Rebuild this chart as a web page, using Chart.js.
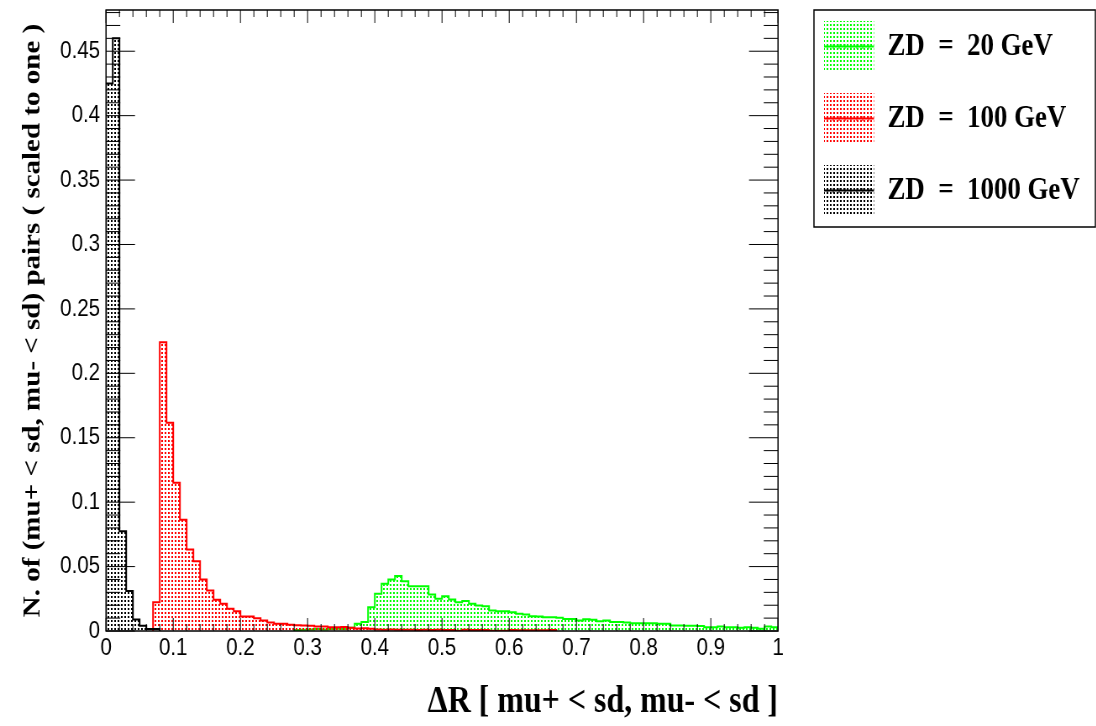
<!DOCTYPE html>
<html>
<head>
<meta charset="utf-8">
<title>ΔR [ mu+ &lt; sd, mu- &lt; sd ]</title>
<script src="https://cdn.jsdelivr.net/npm/chart.js@4.4.1/dist/chart.umd.min.js"></script>
<style>
  html, body { margin: 0; padding: 0; background: #fff; overflow: hidden; }
  /* canvas is drawn wide and squeezed horizontally, like the original pad */
  #wrap { width: 1305px; height: 726px; transform: scaleX(0.84); transform-origin: 0 0; }
</style>
</head>
<body>
<div id="wrap"><canvas id="dr" width="1305" height="726"></canvas></div>
<script>
// histogram binning
const BIN = 0.01;

// ZD = 20 GeV, bins from 0.28 up to 1.00
const zd20Start = 0.28;
const zd20 = [
  0.0008, 0.0010, 0.0012, 0.0015, 0.0012, 0.0015, 0.0018, 0.0015, 0.0025, 0.0056,
  0.0069, 0.0185, 0.0289, 0.0366, 0.0400, 0.0426, 0.0387, 0.0348, 0.0348, 0.0348,
  0.0283, 0.0250, 0.0270, 0.0245, 0.0224, 0.0232, 0.0211, 0.0198, 0.0193, 0.0159,
  0.0154, 0.0154, 0.0146, 0.0133, 0.0128, 0.0115, 0.0113, 0.0107, 0.0107, 0.0102,
  0.0094, 0.0094, 0.0082, 0.0092, 0.0087, 0.0076, 0.0082, 0.0069, 0.0069, 0.0066,
  0.0061, 0.0061, 0.0061, 0.0061, 0.0056, 0.0056, 0.0043, 0.0043, 0.0040, 0.0040,
  0.0038, 0.0030, 0.0030, 0.0035, 0.0030, 0.0030, 0.0025, 0.0030, 0.0025, 0.0017,
  0.0035, 0.0030
];

// ZD = 100 GeV, bins from 0.07 up to 0.67
const zd100Start = 0.07;
const zd100 = [
  0.0224, 0.2242, 0.1616, 0.1150, 0.0863, 0.0633, 0.0542, 0.0400, 0.0314, 0.0242,
  0.0211, 0.0172, 0.0154, 0.0113, 0.0113, 0.0099, 0.0082, 0.0066, 0.0056, 0.0056,
  0.0048, 0.0045, 0.0042, 0.0040, 0.0035, 0.0035, 0.0030, 0.0030, 0.0032, 0.0025,
  0.0020, 0.0022, 0.0018, 0.0012, 0.0010, 0.0011, 0.0009, 0.0010, 0.0009, 0.0008,
  0.0010, 0.0008, 0.0009, 0.0008, 0.0008, 0.0002, 0.0009, 0.0008, 0.0007, 0.0008,
  0.0002, 0.0002, 0.0002, 0.0007, 0.0006, 0.0006, 0.0005, 0.0005, 0.0006, 0.0007
];

// ZD = 1000 GeV, bins from 0.00 up to 0.08
const zd1000Start = 0.0;
const zd1000 = [0.425, 0.460, 0.0775, 0.031, 0.009, 0.004, 0.0015, 0.0015];

const seriesLabels = ['ZD  =  20 GeV', 'ZD  =  100 GeV', 'ZD  =  1000 GeV'];
const seriesColors = ['#00ff00', '#ff0000', '#000000'];

// axis ticks
const xTicks = [0, 0.1, 0.2, 0.3, 0.4, 0.5, 0.6, 0.7, 0.8, 0.9, 1];
const yTicks = [0, 0.05, 0.1, 0.15, 0.2, 0.25, 0.3, 0.35, 0.4, 0.45];
const X_MINOR = 0.02, Y_MINOR = 0.01;
const Y_MAX = 0.482;

// plot frame in canvas pixels
const PLOT_LEFT = 126.2, PLOT_RIGHT = 926.2, PLOT_TOP = 10, X_AXIS_H = 95;
const SWATCH_W = 59.5, SWATCH_H = 51;
const LEGEND_PAD = 21, LEGEND_FONT_SIZE = 32;
const LEGEND_ITEM_X = 981;   // where the first swatch should start

const TICK_FONT = "'Liberation Sans', Arial, sans-serif";
const TITLE_FONT = "'Liberation Serif', 'Times New Roman', serif";

// legend width as chart.js computes it, so the swatches land at LEGEND_ITEM_X
const mctx = document.createElement('canvas').getContext('2d');
mctx.font = 'bold ' + LEGEND_FONT_SIZE + 'px ' + TITLE_FONT;
const legendTextW = Math.max(...seriesLabels.map(t => mctx.measureText(t).width));
const legendW = LEGEND_PAD + SWATCH_W + LEGEND_FONT_SIZE / 2 + legendTextW + 10;
const PAD_RIGHT = Math.max(0, 1305 - (LEGEND_ITEM_X - LEGEND_PAD) - legendW);

// stipple fill like ROOT's dotted fill style
function stipple(color) {
  const c = document.createElement('canvas');
  c.width = 4; c.height = 4;
  const g = c.getContext('2d');
  g.fillStyle = color;
  g.fillRect(0, 0, 2, 2);
  return g.createPattern(c, 'repeat');
}

// step outline: each point is a bin low edge, closed down to zero at both ends
function histPoints(start, vals) {
  const pts = [{x: start, y: 0}];
  vals.forEach((v, i) => pts.push({x: start + i * BIN, y: v}));
  pts.push({x: start + vals.length * BIN, y: 0});
  return pts;
}

const histData = [
  histPoints(zd20Start, zd20),
  histPoints(zd100Start, zd100),
  histPoints(zd1000Start, zd1000)
];

const datasets = histData.map((pts, i) => ({
  label: seriesLabels[i],
  data: pts,
  stepped: 'before',
  borderColor: seriesColors[i],
  backgroundColor: stipple(seriesColors[i]),
  borderWidth: 2,
  fill: 'origin',
  pointRadius: 0,
  order: 3 - i
}));

// ROOT-like frame with inward ticks on all four sides
const frameTicks = {
  id: 'frameTicks',
  afterDatasetsDraw(chart) {
    const {ctx, chartArea: a, scales} = chart;
    const x = scales.x, y = scales.y;
    ctx.save();
    ctx.strokeStyle = '#000';
    ctx.lineWidth = 1;
    ctx.beginPath();
    for (let k = 0; k * X_MINOR <= 1 + 1e-9; k++) {
      const px = x.getPixelForValue(k * X_MINOR);
      const len = k % 5 === 0 ? 13 : 7;
      ctx.moveTo(px, a.bottom); ctx.lineTo(px, a.bottom - len);
      ctx.moveTo(px, a.top); ctx.lineTo(px, a.top + len);
    }
    for (let k = 0; k * Y_MINOR <= Y_MAX; k++) {
      const py = y.getPixelForValue(k * Y_MINOR);
      const len = k % 5 === 0 ? 34.5 : 17;
      ctx.moveTo(a.left, py); ctx.lineTo(a.left + len, py);
      ctx.moveTo(a.right, py); ctx.lineTo(a.right - len, py);
    }
    ctx.stroke();
    ctx.lineWidth = 1.5;
    ctx.strokeRect(a.left, a.top, a.right - a.left, a.bottom - a.top);
    ctx.restore();
  },
  afterDraw(chart) {
    const {ctx} = chart;
    const boxes = chart.legend.legendHitBoxes;
    if (!boxes || !boxes.length) return;
    ctx.save();
    const left = boxes[0].left - 12;
    ctx.strokeStyle = '#000';
    ctx.lineWidth = 1.5;
    ctx.strokeRect(left, 10, chart.width - 1 - left, 217);
    chart.data.datasets.forEach((ds, i) => {
      const b = boxes[i];
      const my = b.top + SWATCH_H / 2;
      ctx.strokeStyle = ds.borderColor;
      ctx.lineWidth = 2;
      ctx.beginPath();
      ctx.moveTo(b.left, my); ctx.lineTo(b.left + SWATCH_W, my);
      ctx.stroke();
      ctx.lineWidth = 1;
      ctx.beginPath();
      for (let t = b.left + 4; t < b.left + SWATCH_W; t += 7) {
        ctx.moveTo(t, my - 2.5); ctx.lineTo(t, my + 2.5);
      }
      ctx.stroke();
    });
    ctx.restore();
  }
};

new Chart(document.getElementById('dr'), {
  type: 'line',
  data: {datasets: datasets},
  options: {
    responsive: false,
    animation: false,
    devicePixelRatio: 1,
    layout: {padding: {left: 0, top: 0, right: PAD_RIGHT, bottom: 0}},
    scales: {
      x: {
        type: 'linear', position: 'bottom', min: 0, max: 1,
        grid: {display: false, drawTicks: false},
        border: {display: false},
        afterBuildTicks: s => { s.ticks = xTicks.map(v => ({value: v})); },
        afterFit: s => { s.height = X_AXIS_H; s.paddingLeft = 0; s.paddingRight = 0; },
        ticks: {
          autoSkip: false, maxRotation: 0, padding: 3, color: '#000',
          font: {family: TICK_FONT, size: 24.5},
          callback: v => String(v)
        },
        title: {
          display: true, align: 'end', color: '#000',
          text: 'ΔR [ mu+ < sd, mu- < sd ]',
          font: {family: TITLE_FONT, size: 38, weight: 'bold'},
          padding: {top: 0, bottom: 1}
        }
      },
      xTop: {
        type: 'linear', position: 'top', min: 0, max: 1,
        grid: {display: false, drawTicks: false},
        border: {display: false},
        ticks: {display: false},
        afterFit: s => { s.height = PLOT_TOP; s.paddingLeft = 0; s.paddingRight = 0; }
      },
      y: {
        type: 'linear', position: 'left', min: 0, max: Y_MAX,
        grid: {display: false, drawTicks: false},
        border: {display: false},
        afterBuildTicks: s => { s.ticks = yTicks.map(v => ({value: v})); },
        afterFit: s => { s.width = PLOT_LEFT; s.paddingTop = 0; s.paddingBottom = 0; },
        ticks: {
          padding: 7, color: '#000',
          font: {family: TICK_FONT, size: 24.5},
          callback: v => String(v)
        },
        title: {
          display: true, color: '#000',
          text: 'N. of (mu+ < sd, mu- < sd) pairs ( scaled to one )',
          font: {family: TITLE_FONT, size: 29, weight: 'bold'},
          padding: {top: 22, bottom: 0}
        }
      },
      yRight: {
        type: 'linear', position: 'right', min: 0, max: Y_MAX,
        grid: {display: false, drawTicks: false},
        border: {display: false},
        ticks: {display: false},
        afterFit: s => {
          s.width = Math.max(0, s.chart.width - PAD_RIGHT - s.chart.legend.width - PLOT_RIGHT);
          s.paddingTop = 0; s.paddingBottom = 0;
        }
      }
    },
    plugins: {
      tooltip: {enabled: false},
      legend: {
        position: 'right',
        align: 'start',
        maxWidth: 400,
        labels: {
          boxWidth: SWATCH_W,
          boxHeight: SWATCH_H,
          padding: LEGEND_PAD,
          color: '#000',
          font: {family: TITLE_FONT, size: LEGEND_FONT_SIZE, weight: 'bold'},
          generateLabels: chart => chart.data.datasets.map((ds, i) => ({
            text: ds.label,
            fillStyle: ds.backgroundColor,
            strokeStyle: ds.borderColor,
            lineWidth: 0,
            fontColor: '#000',
            hidden: false,
            datasetIndex: i
          }))
        }
      }
    }
  },
  plugins: [frameTicks]
});
</script>
</body>
</html>
